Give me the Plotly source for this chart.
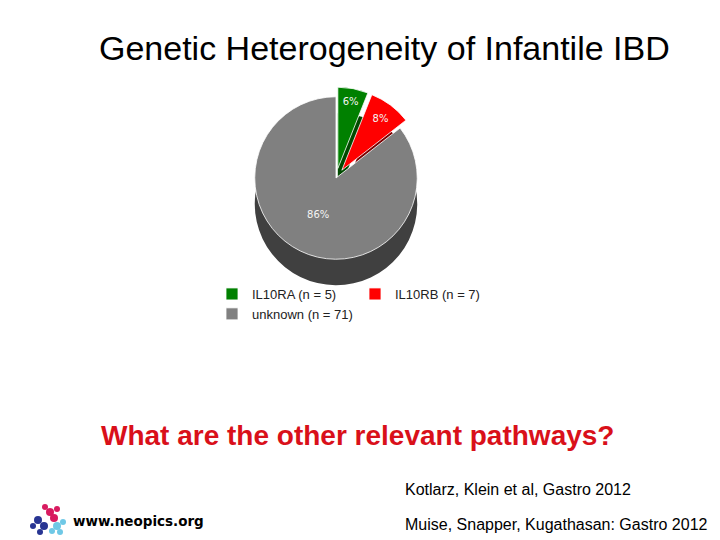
import plotly.graph_objects as go

labels = ["IL10RA (n = 5)", "IL10RB (n = 7)", "unknown (n = 71)"]
counts = [5, 7, 71]
top_colors = ["#008000", "#ff0000", "#808080"]
side_colors = ["#004a00", "#7a0000", "#404040"]
pulls = [0.12, 0.12, 0.0]

title_text = "Genetic Heterogeneity of Infantile IBD"
question_text = "What are the other relevant pathways?"
ref1 = "Kotlarz, Klein et al, Gastro 2012"
ref2 = "Muise, Snapper, Kugathasan: Gastro 2012"
site = "www.neopics.org"

W, H = 720, 540
L, R = 180, 180
PW = W - L - R


def px(x):
    return (x - L) / PW


def py(y):
    return (H - y) / H


cx, cy, size, depth = 336, 178, 182, 26

fig = go.Figure()
# side (depth) of the pie
fig.add_trace(go.Pie(
    labels=labels, values=counts, sort=False, direction="clockwise", rotation=0,
    pull=pulls, marker=dict(colors=side_colors, line=dict(color="#ffffff", width=0)),
    textinfo="none", hoverinfo="skip", showlegend=False,
    domain=dict(x=[px(cx - size / 2), px(cx + size / 2)],
                y=[py(cy + depth + size / 2), py(cy + depth - size / 2)]),
))
# top face
fig.add_trace(go.Pie(
    labels=labels, values=counts, sort=False, direction="clockwise", rotation=0,
    pull=pulls, marker=dict(colors=top_colors, line=dict(color="#ffffff", width=0.8)),
    texttemplate="%{percent:.0%}", textposition="inside", insidetextorientation="horizontal",
    textfont=dict(family="DejaVu Sans", size=10, color="#f4f4f4"),
    domain=dict(x=[px(cx - size / 2), px(cx + size / 2)],
                y=[py(cy + size / 2), py(cy - size / 2)]),
))

ann = [
    dict(text=title_text, x=px(384), y=py(48), xanchor="center",
         font=dict(family="Liberation Sans", size=34, color="#000000")),
    dict(text="<b>" + question_text + "</b>", x=px(357), y=py(436), xanchor="center",
         font=dict(family="Liberation Sans", size=28, color="#d9101a")),
    dict(text=ref1, x=px(403), y=py(489), xanchor="left",
         font=dict(family="Liberation Sans", size=16, color="#000000")),
    dict(text=ref2, x=px(403), y=py(524), xanchor="left",
         font=dict(family="Liberation Sans", size=16, color="#000000")),
    dict(text="<b>" + site + "</b>", x=px(71), y=py(521), xanchor="left",
         font=dict(family="DejaVu Sans", size=13.5, color="#000000")),
]
annotations = []
for a in ann:
    d = dict(xref="paper", yref="paper", showarrow=False, yanchor="middle")
    d.update(a)
    annotations.append(d)

# small decorative logo (clusters of dots)
logo_dots = [
    (50, 512, 4, "#d81b60"), (57, 509, 3, "#d81b60"), (54, 518, 4, "#d81b60"), (45, 507, 3, "#d81b60"),
    (38, 520, 4, "#283593"), (44, 526, 4, "#283593"), (33, 526, 3, "#283593"), (40, 532, 3, "#283593"),
    (57, 526, 4, "#6fc8e6"), (63, 522, 3, "#6fc8e6"), (60, 532, 3, "#6fc8e6"), (52, 531, 3, "#6fc8e6"),
]
shapes = []
for x, y, r, c in logo_dots:
    shapes.append(dict(type="circle", xref="paper", yref="paper",
                       x0=px(x - r), x1=px(x + r), y0=py(y + r), y1=py(y - r),
                       fillcolor=c, line=dict(width=0)))

fig.update_layout(
    width=W, height=H,
    margin=dict(l=L, r=R, t=0, b=0, autoexpand=False),
    paper_bgcolor="#ffffff", plot_bgcolor="#ffffff",
    annotations=annotations, shapes=shapes,
    showlegend=True,
    legend=dict(orientation="h", x=px(212), y=py(279), xanchor="left", yanchor="top",
                entrywidth=98, entrywidthmode="pixels", itemwidth=30,
                font=dict(family="Liberation Sans", size=13, color="#222222"),
                bgcolor="rgba(0,0,0,0)"),
)

fig.write_html("out.html")
